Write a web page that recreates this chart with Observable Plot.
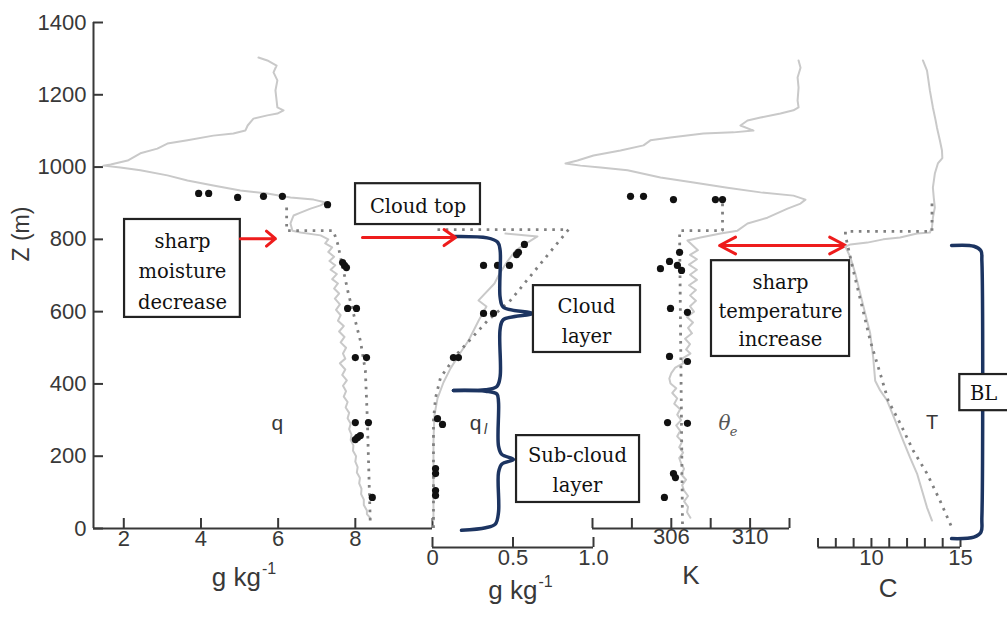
<!DOCTYPE html>
<html>
<head>
<meta charset="utf-8">
<script src="https://cdn.jsdelivr.net/npm/d3@7"></script>
<script src="https://cdn.jsdelivr.net/npm/@observablehq/plot@0.6"></script>
<style>
  body { margin: 0; background: #fff; }
  #fig { position: relative; width: 1007px; height: 617px; overflow: hidden; background: #fff; }
  #fig svg { position: absolute; left: 0; top: 0; }
</style>
</head>
<body>
<div id="fig"></div>
<script>
// ---------------- height axis ----------------
const zTicks = [0, 200, 400, 600, 800, 1000, 1200, 1400];

// ---------------- specific humidity q (g/kg), pairs are [q, z] ----------------
const qTicks = [2, 4, 6, 8, 10];
const qTickLabels = [2, 4, 6, 8];
const qProfile = [
  [5.49,1303],[5.72,1295],[5.96,1281],[5.88,1262],[5.98,1240],[5.93,1212],[5.98,1165],[6.14,1157],
  [5.98,1148],[5.72,1143],[5.36,1134],[5.21,1115],[5.15,1101],[4.84,1093],[4.32,1087],[3.65,1074],
  [3.13,1065],[2.87,1051],[2.43,1038],[2.10,1018],[1.66,1007],[1.47,1004],[1.91,999],[2.43,991],
  [3.13,977],[3.65,963],[4.32,949],[5.02,935],[5.72,927],[6.32,916],[6.92,910],[7.23,902],
  [7.10,894],[6.84,885],[6.58,874],[6.40,866],[6.37,858],[6.32,844],[6.37,824],[6.58,819],
  [7.10,811],[7.30,800],[7.22,789],[7.40,778],[7.30,765],[7.45,752],[7.33,740],[7.48,728],
  [7.36,716],[7.52,704],[7.40,690],[7.55,678],[7.45,664],[7.58,650],[7.47,636],[7.60,620],
  [7.50,605],[7.62,590],[7.55,575],[7.70,560],[7.58,545],[7.72,530],[7.62,515],[7.76,500],
  [7.68,484],[7.74,470],[7.60,457],[7.74,440],[7.66,425],[7.78,410],[7.68,395],[7.76,380],
  [7.70,365],[7.80,350],[7.75,335],[7.84,320],[7.80,305],[7.88,290],[7.84,275],[7.90,260],
  [7.88,245],[7.95,230],[7.94,215],[8.02,200],[8.00,185],[8.06,170],[8.04,155],[8.12,140],
  [8.10,125],[8.16,110],[8.15,95],[8.22,80],[8.22,65],[8.30,50],[8.30,40],[8.38,30]
];
const qModel = [[6.22,888],[6.22,824],[7.43,824],[7.54,789],[7.82,650],[8.13,520],[8.26,437],[8.31,307],[8.39,8]];
const qObs = [
  [3.94,927],[4.20,927],[4.95,916],[5.62,919],[6.11,919],[7.28,896],
  [7.67,736],[7.72,728],[7.77,722],[7.80,609],[8.03,609],[8.00,473],[8.29,473],
  [8.00,293],[8.34,293],[8.00,246],[8.06,252],[8.13,257],[8.44,86]
];

// ---------------- liquid water ql (g/kg) ----------------
const qlTicks = [0, 0.5, 1];
const qlTickLabels = ["0", "0.5", "1.0"];
const qlProfile = [
  [0.453,816],[0.652,808],[0.590,791],[0.516,769],[0.460,736],[0.410,700],[0.385,678],[0.286,631],
  [0.335,614],[0.286,575],[0.224,520],[0.174,487],[0.112,443],[0.068,404],[0.031,360],[0.012,313],
  [0.006,243],[0.006,133],[0.006,22]
];
const qlModel = [[0.031,827],[0.845,827],[0.484,631],[0.342,575],[0.155,484],[0.050,418],[0.019,362],[0.006,299],[0.006,0]];
const qlObs = [
  [0.571,786],[0.534,764],[0.522,758],[0.317,728],[0.404,728],[0.478,728],
  [0.317,595],[0.379,595],[0.130,473],[0.161,473],[0.031,304],[0.062,288],
  [0.019,166],[0.019,152],[0.019,105],[0.019,91]
];

// ---------------- equivalent potential temperature (K) ----------------
const thTicks = [302, 304, 306, 308, 310, 312];
const thTickLabels = [306, 310];
const thProfile = [
  [312.46,1295],[312.56,1275],[312.41,1248],[312.46,1220],[312.41,1184],[312.46,1165],[312.20,1157],
  [311.54,1148],[310.53,1137],[309.87,1129],[309.51,1115],[310.17,1101],[309.16,1096],[307.63,1093],
  [305.96,1082],[304.94,1074],[304.59,1060],[303.42,1046],[302.05,1032],[301.24,1018],[300.63,1010],
  [301.39,1004],[302.41,999],[303.78,991],[305.45,971],[307.13,957],[308.85,943],[310.53,930],
  [312.20,921],[312.81,910],[312.56,899],[311.90,885],[310.88,860],[309.87,844],[309.36,824],
  [308.50,816],[307.48,805],[306.82,797],[307.05,785],[307.35,770],[306.95,757],[307.30,745],
  [306.90,730],[307.30,716],[306.95,702],[307.30,688],[306.90,673],[307.25,660],[306.95,645],
  [307.25,630],[306.95,615],[307.15,600],[306.80,585],[307.10,570],[306.85,555],[307.05,540],
  [306.70,525],[306.95,510],[306.75,495],[306.97,484],[306.55,470],[306.60,457],[306.20,445],
  [306.00,430],[305.90,415],[305.96,401],[306.25,388],[306.05,375],[306.30,360],[306.15,345],
  [306.45,330],[306.30,315],[306.50,300],[306.25,285],[306.45,270],[306.30,255],[306.55,240],
  [306.40,225],[306.60,210],[306.40,195],[306.50,180],[306.65,165],[306.50,150],[306.75,135],
  [306.55,120],[306.65,105],[306.85,90],[306.65,75],[306.85,60],[306.80,45],[306.97,30]
];
const thModel = [[308.6,899],[308.6,824],[306.42,824],[306.57,0]];
const thObs = [
  [303.93,919],[304.59,919],[306.11,910],[308.24,910],[308.60,910],
  [306.42,764],[305.91,739],[305.45,719],[306.31,728],[306.52,714],
  [305.96,609],[306.82,598],[305.91,476],[306.82,462],[305.81,293],[306.82,291],
  [306.11,152],[306.21,141],[305.65,86]
];

// ---------------- temperature (C) ----------------
const tTicks = [7, 8, 9, 10, 11, 12, 13, 14, 15];
const tTickLabels = [10, 15];
const tProfile = [
  [12.89,1295],[13.12,1267],[13.20,1240],[13.28,1212],[13.45,1165],[13.60,1130],[13.68,1109],
  [13.84,1074],[13.96,1046],[13.98,1025],[13.73,1010],[13.56,982],[13.45,943],[13.50,915],
  [13.56,888],[13.45,860],[13.40,833],[13.28,819],[12.56,816],[11.61,805],[10.66,800],[9.77,791],
  [8.82,786],[8.54,780],[8.82,750],[9.09,706],[9.37,650],[9.65,595],[9.93,540],[10.10,473],
  [10.21,409],[10.49,382],[10.88,354],[11.33,299],[11.78,243],[12.17,196],[12.56,152],[12.84,105],
  [13.12,58],[13.40,22]
];
const tModel = [
  [13.40,899],[13.40,822],[8.54,822],[8.54,811],[8.98,714],[9.49,611],[9.93,520],[10.49,429],
  [10.94,354],[11.61,291],[12.34,216],[13.12,152],[13.85,77],[14.51,3]
];

// ---------------- annotations (panel units, height in m) ----------------
const moistureNote = [{x1: 2.02, x2: 5.02, z1: 584, z2: 855, cx: 3.52, cz: 719, label: "sharp\nmoisture\ndecrease"}];
const moistureArrow = [{x1: 5.02, x2: 5.93, z: 802}];
const cloudTopNote = [{x1: -0.478, x2: 0.298, z1: 841, z2: 954, cx: -0.09, cz: 899, label: "Cloud top"}];
const cloudTopArrow = [{x1: -0.435, x2: 0.143, z: 805}];
const layerNotes = [
  {x1: 0.627, x2: 1.292, z1: 487, z2: 672, cx: 0.957, cz: 581, label: "Cloud\nlayer"},
  {x1: 0.522, x2: 1.286, z1: 72, z2: 257, cx: 0.90, cz: 169, label: "Sub-cloud\nlayer"}
];
const cloudBrace = [[0.13,808],[0.34,804],[0.405,792],[0.42,770],[0.42,640],[0.44,612],[0.62,595],[0.44,578],[0.42,552],[0.42,420],[0.40,393],[0.33,384],[0.13,382]];
const subCloudBrace = [[0.13,382],[0.33,380],[0.40,372],[0.41,350],[0.41,228],[0.43,205],[0.503,191],[0.43,178],[0.41,155],[0.41,45],[0.39,12],[0.33,2],[0.18,-5]];
const tempNote = [{x1: 308.04, x2: 315.05, z1: 476, z2: 741, cx: 311.54, cz: 609, label: "sharp\ntemperature\nincrease"}];
const tempArrow = [{from: 311.67, to: 308.45, z: 783}, {from: 311.67, to: 314.85, z: 783}];
const blBracket = [[14.5,783],[15.75,781],[16.15,768],[16.2,740],[16.2,30],[16.15,-10],[15.75,-24],[14.5,-28]];
const blNote = [{x1: 14.96, x2: 17.9, z1: 326, z2: 426, cx: 16.3, cz: 376, label: "BL"}];

// ---------------- styles ----------------
const W = 1007, H = 617;
const ink = "#383838";
const navy = "#1c3461";
const red = "#ee1c1c";
const sans = "Liberation Sans, Arial, sans-serif";
const serif = "DejaVu Serif, Liberation Serif, serif";
const observed = {x: d => d[0], y: d => d[1], stroke: "#c9c9c9", strokeWidth: 2};
const modelled = {x: d => d[0], y: d => d[1], stroke: "#808080", strokeWidth: 2.8,
  strokeDasharray: "2.6 5.6", strokeLinecap: "butt", strokeLinejoin: "miter"};
const samples = {x: d => d[0], y: d => d[1], r: 3.6, fill: "#111"};
const frameH = 506; // height of each panel frame in px

function panel(left, right, domain, marks) {
  return Plot.plot({
    width: W, height: H,
    marginTop: 22, marginBottom: 89, marginLeft: left, marginRight: W - right,
    x: {domain, axis: null},
    y: {domain: [0, 1400], axis: null},
    style: {background: "none", overflow: "visible", fontFamily: sans},
    marks
  });
}

// bottom axis drawn as a line with inward ticks; shift moves it below z = 0
function bottomAxis(ticks, labels, fmt, {shift = 0, len = 10, labelDy = 17} = {}) {
  return [
    Plot.ruleY([0], {dy: shift, stroke: ink, strokeWidth: 2}),
    Plot.tickX(ticks, {x: d => d, insetTop: frameH - len, dy: shift, stroke: ink, strokeWidth: 2}),
    Plot.text(labels, {x: d => +d, frameAnchor: "bottom", dy: labelDy, text: fmt, fontSize: 22, fill: ink})
  ];
}

function unitTitle(main, sup, dx, dy) {
  const marks = [Plot.text([main], {frameAnchor: "bottom", text: d => d, textAnchor: sup ? "end" : "middle",
    dx, dy, fontSize: 26, fill: ink})];
  if (sup) marks.push(Plot.text([sup], {frameAnchor: "bottom", text: d => d, textAnchor: "start",
    dx: dx + 1, dy: dy - 12, fontSize: 16, fill: ink}));
  return marks;
}

function noteBoxes(notes, lineHeight) {
  return [
    Plot.rect(notes, {x1: "x1", x2: "x2", y1: "z1", y2: "z2", fill: "white", stroke: "#222", strokeWidth: 2.2}),
    Plot.text(notes, {x: "cx", y: "cz", text: "label", fontFamily: serif, fontSize: 19.5, lineHeight, fill: "#111"})
  ];
}

const redArrow = (data, opts) => Plot.arrow(data, {stroke: red, strokeWidth: 3, ...opts});

// ---------------- panel 1: q ----------------
const qDomain = [1.215, 10];
const p1 = panel(93, 432, qDomain, [
  Plot.ruleX([qDomain[0]], {stroke: ink, strokeWidth: 2}),
  Plot.tickY(zTicks, {y: d => d, insetRight: 339 - 10, stroke: ink, strokeWidth: 2}),
  Plot.text(zTicks, {y: d => d, frameAnchor: "left", dx: -7, textAnchor: "end", text: d => String(d), fontSize: 22, fill: ink}),
  Plot.text(["Z (m)"], {frameAnchor: "left", dx: -72, dy: -14, rotate: -90, text: d => d, fontSize: 23, fill: ink}),
  ...bottomAxis(qTicks, qTickLabels, d => String(d), {labelDy: 17}),
  ...unitTitle("g kg", "-1", -2, 57),
  Plot.line(qProfile, observed),
  Plot.line(qModel, modelled),
  Plot.dot(qObs, samples),
  Plot.text(["q"], {x: () => 5.98, y: () => 291, text: d => d, fontSize: 21, fill: ink}),
  ...noteBoxes(moistureNote, 1.55),
  redArrow(moistureArrow, {x1: "x1", x2: "x2", y1: "z", y2: "z", headLength: 7, headAngle: 80})
]);

// ---------------- panel 2: ql ----------------
const p2 = panel(432, 593, [0, 1], [
  ...bottomAxis(qlTicks, qlTicks, (d, i) => qlTickLabels[i], {shift: 19, len: 10, labelDy: 36}),
  ...unitTitle("g kg", "-1", 24.5, 70),
  Plot.line(qlProfile, observed),
  Plot.line(qlModel, modelled),
  Plot.dot(qlObs, samples),
  Plot.text(["q"], {x: () => 0.267, y: () => 292, text: d => d, fontSize: 21, fill: ink}),
  Plot.text(["l"], {x: () => 0.267, y: () => 292, dx: 10, dy: 7, text: d => d, fontSize: 14, fontStyle: "italic", fill: ink}),
  Plot.line(cloudBrace, {x: d => d[0], y: d => d[1], curve: "catmull-rom", stroke: navy, strokeWidth: 3.5}),
  Plot.line(subCloudBrace, {x: d => d[0], y: d => d[1], curve: "catmull-rom", stroke: navy, strokeWidth: 3.5}),
  redArrow(cloudTopArrow, {x1: "x1", x2: "x2", y1: "z", y2: "z", headLength: 7, headAngle: 70}),
  ...noteBoxes(cloudTopNote, 1.5),
  ...noteBoxes(layerNotes, 1.55)
]);

// ---------------- panel 3: theta_e ----------------
const p3 = panel(592, 789, [302, 312], [
  ...bottomAxis(thTicks, thTickLabels, d => String(d), {labelDy: 15}),
  ...unitTitle("K", null, 0, 55),
  Plot.line(thProfile, observed),
  Plot.line(thModel, modelled),
  Plot.dot(thObs, samples),
  Plot.text(["θ"], {x: () => 308.7, y: () => 290, text: d => d, fontFamily: serif, fontStyle: "italic", fontSize: 20, fill: "#555"}),
  Plot.text(["e"], {x: () => 308.7, y: () => 290, dx: 9, dy: 8, text: d => d, fontFamily: serif, fontStyle: "italic", fontSize: 13, fill: "#555"}),
  ...noteBoxes(tempNote, 1.47),
  redArrow(tempArrow, {x1: "from", x2: "to", y1: "z", y2: "z", headLength: 9, headAngle: 55})
]);

// ---------------- panel 4: T ----------------
const p4 = panel(817.5, 960, [7, 15], [
  ...bottomAxis(tTicks, tTickLabels, d => String(d), {shift: 19, len: 9, labelDy: 36}),
  ...unitTitle("C", null, -1, 68),
  Plot.line(tProfile, observed),
  Plot.line(tModel, modelled),
  Plot.text(["T"], {x: () => 13.4, y: () => 292, text: d => d, fontSize: 20, fill: ink}),
  Plot.line(blBracket, {x: d => d[0], y: d => d[1], curve: "catmull-rom", stroke: navy, strokeWidth: 3.5}),
  ...noteBoxes(blNote, 1.2)
]);

const fig = document.getElementById("fig");
[p1, p2, p3, p4].forEach(svg => fig.appendChild(svg));
</script>
</body>
</html>
